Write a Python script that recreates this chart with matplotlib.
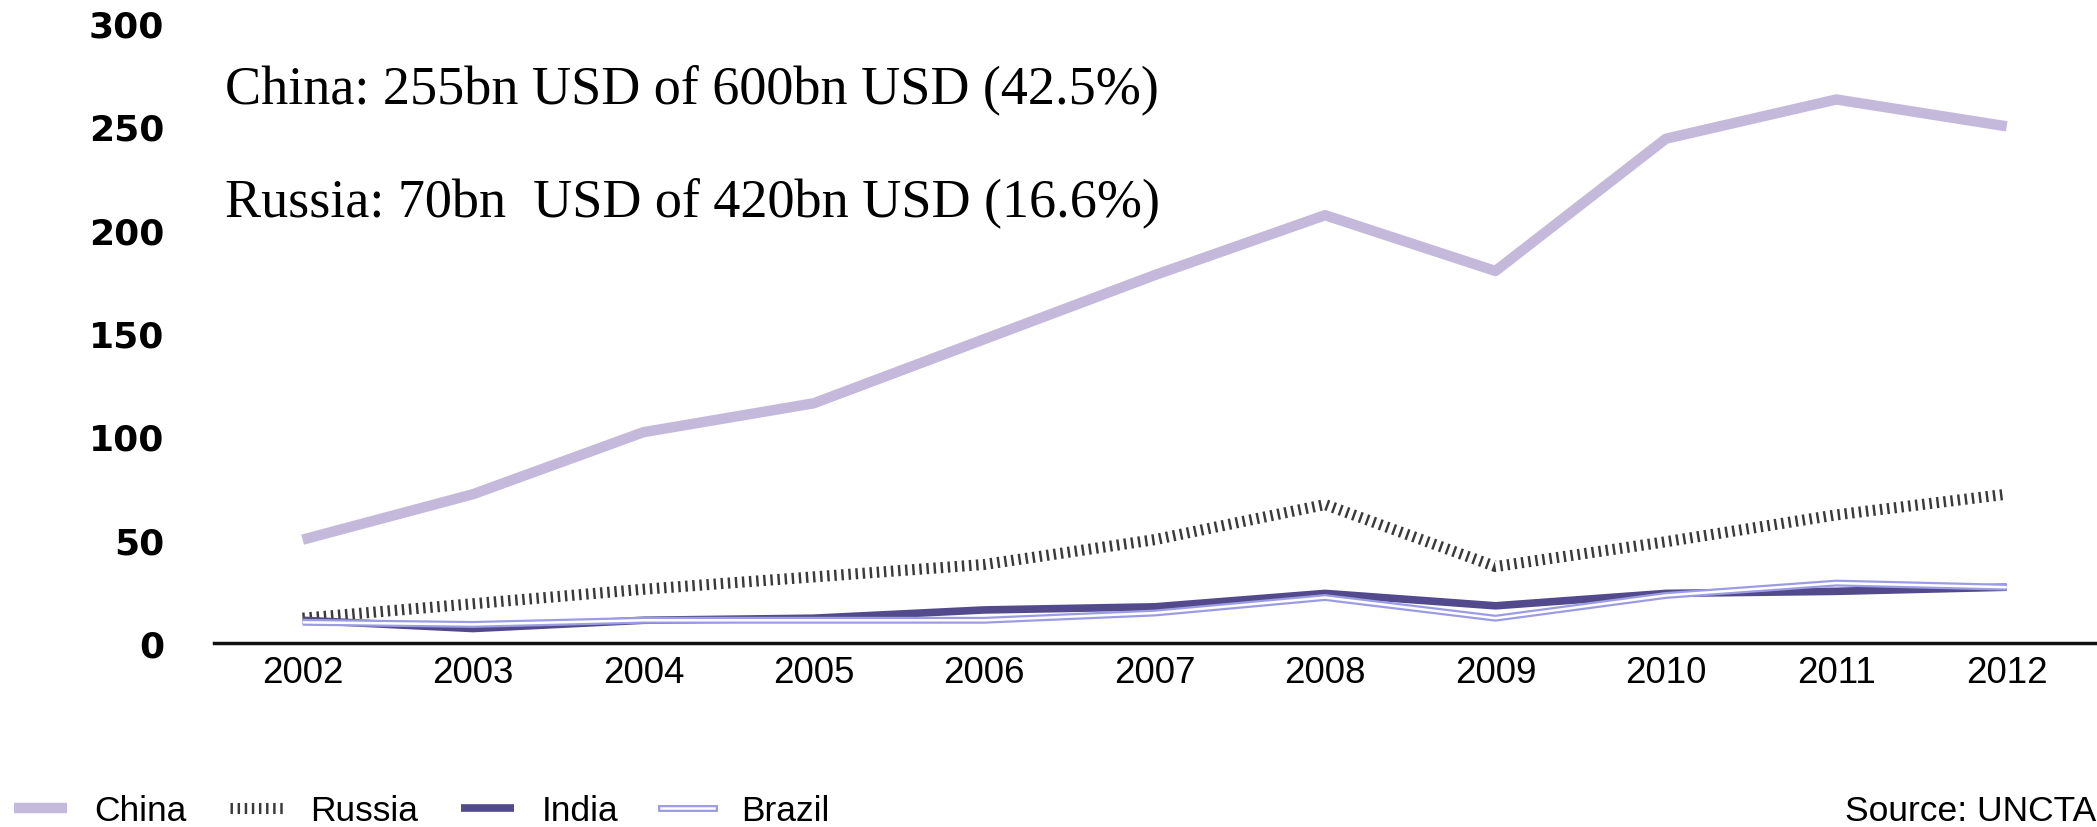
import matplotlib.pyplot as plt
from matplotlib.lines import Line2D

years = [2002, 2003, 2004, 2005, 2006, 2007, 2008, 2009, 2010, 2011, 2012]
china = [50, 72, 102, 116, 147, 178, 207, 180, 244, 263, 250]
russia = [12, 19, 26, 32, 38, 50, 67, 37, 49, 62, 72]
india = [11, 7, 11, 12, 16, 17.5, 24, 18, 24, 25, 27]
brazil = [10, 9, 11, 11, 11, 14.5, 22, 12, 23, 29, 27]
y_ticks = [0, 50, 100, 150, 200, 250, 300]

W, H = 2097, 828
fig = plt.figure(figsize=(W / 100, H / 100), dpi=100)
ax = fig.add_axes([214 / W, 1 - 644 / H, 1 - 214 / W, (644 - 24) / H])

ax.plot(years, china, color='#c4b9db', lw=7.5, solid_capstyle='butt', label='China')
ax.plot(years, russia, color='#3a3a3a', lw=8, dashes=(0.22, 0.42),
        dash_capstyle='butt', label='Russia')
ax.plot(years, india, color='#524a8c', lw=5.5, solid_capstyle='butt', label='India')
ax.plot(years, brazil, color='#9c9ce4', lw=5, solid_capstyle='butt', label='Brazil')
ax.plot(years, brazil, color='white', lw=1.8, solid_capstyle='butt')

ax.set_xlim(2001.48, 2012.53)
ax.set_ylim(0, 300)
ax.set_xticks(years)
ax.set_yticks(y_ticks)
ax.tick_params(length=0)
ax.tick_params(axis='y', pad=36)
ax.tick_params(axis='x', pad=9)
for lbl in ax.get_yticklabels():
    lbl.set_fontsize(26)
    lbl.set_fontweight('bold')
    lbl.set_family('DejaVu Sans')
for lbl in ax.get_xticklabels():
    lbl.set_fontsize(26.5)
    lbl.set_family('Liberation Sans')

for s in ['top', 'right', 'left']:
    ax.spines[s].set_visible(False)
ax.spines['bottom'].set_linewidth(2.5)
ax.spines['bottom'].set_color('#111111')

serif = dict(family='Liberation Serif', fontsize=39, va='center', ha='left')
fig.text(225 / W, 1 - 90 / H, 'China: 255bn USD of 600bn USD (42.5%)', **serif)
fig.text(225 / W, 1 - 203 / H, 'Russia: 70bn  USD of 420bn USD (16.6%)', **serif)

h_brazil = (Line2D([], [], color='#9c9ce4', lw=5), Line2D([], [], color='white', lw=1.8))
handles, labels = ax.get_legend_handles_labels()
handles[3] = h_brazil
fig.legend(handles, labels, loc='center left', bbox_to_anchor=(14 / W, 1 - 812 / H),
           ncol=4, frameon=False, handlelength=1.5, handletextpad=0.78,
           columnspacing=1.2, borderaxespad=0, borderpad=0,
           prop={'family': 'Liberation Sans', 'size': 25.5})

# source note runs off the right edge, as in the original
fig.text(1845 / W, 1 - 812 / H, 'Source: UNCTAD', family='Liberation Sans',
         fontsize=25.5, va='center', ha='left')

fig.savefig('out.png', dpi=100)
